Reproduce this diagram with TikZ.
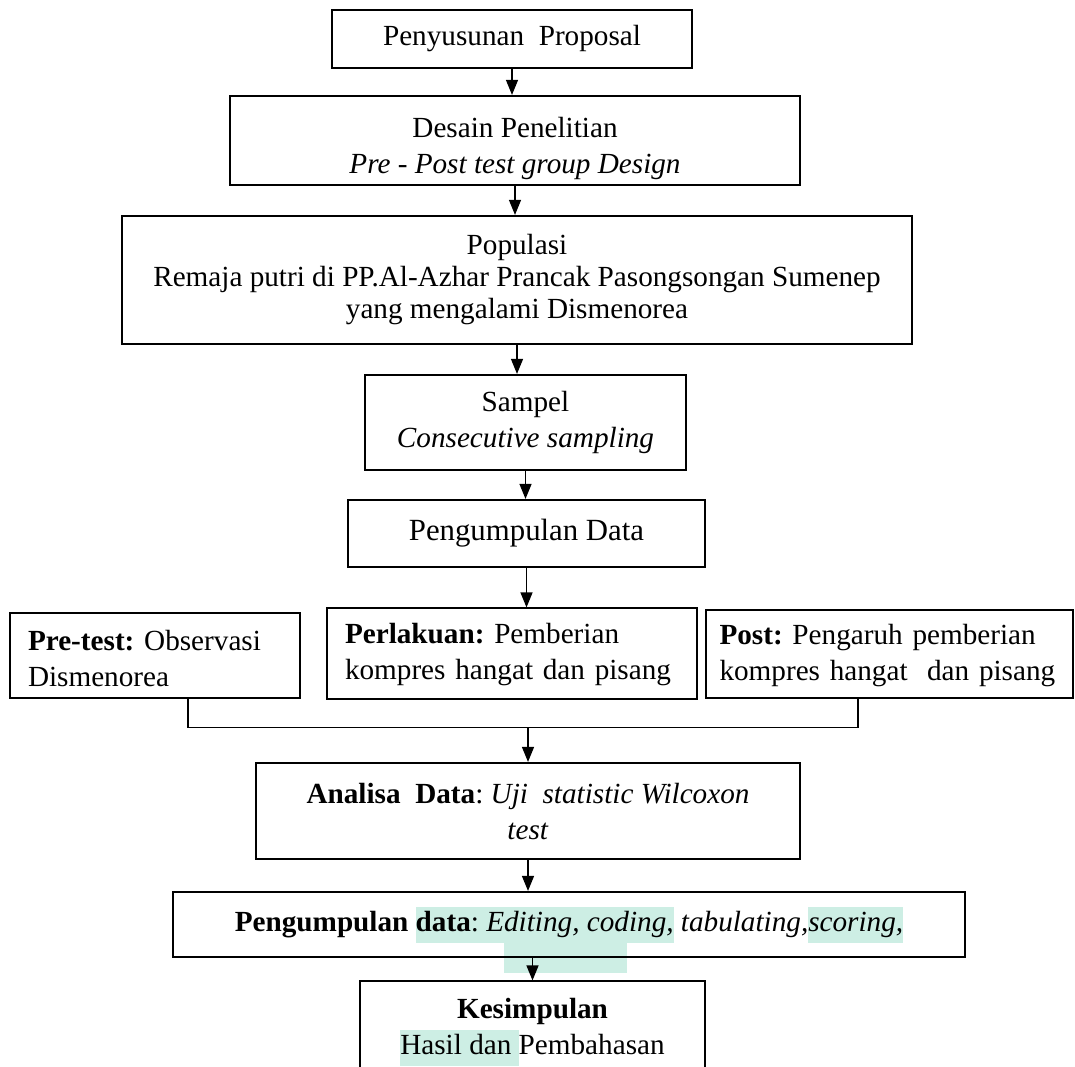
\documentclass[tikz,border=0pt]{standalone}
\usepackage{fontspec}
\setmainfont{Liberation Serif}
\usepackage{xcolor}
\usepackage{tikz}
\usetikzlibrary{arrows.meta,calc}
\definecolor{markgreen}{HTML}{CDEEE4}
\newcommand{\hlt}[1]{{\setlength{\fboxsep}{0pt}\colorbox{markgreen}{\strut #1}}}
\frenchspacing

\begin{document}
\begin{tikzpicture}[x=0.5pt,y=-0.5pt,
  bigbox/.style={draw, line width=1.1pt, align=center, inner sep=0pt},
  smallbox/.style={draw, line width=0.6pt, align=left, inner xsep=9pt, inner ysep=0pt},
  arr/.style={-{Triangle[length=7.5pt,width=6pt]}, line width=0.6pt},
  font=\fontsize{14.6}{18}\selectfont]
\useasboundingbox (0,0) rectangle (1075,1066);
\clip (0,0) rectangle (1075,1066);
% highlight behind the data box
\fill[markgreen] (504,941) rectangle (627,973);
\node[bigbox, minimum width=180pt, minimum height=29pt] (prop) at (512,39) {Penyusunan~ Proposal};
\node[bigbox, minimum width=285pt, text height=38.5pt, text depth=6pt] (desain) at (515,140.5) {Desain Penelitian\\ \textit{Pre - Post test group Design}};
\node[bigbox, minimum width=395pt, minimum height=64pt, font=\fontsize{14.6}{16}\selectfont] (pop) at (517,280) {Populasi\\ Remaja putri di PP.Al-Azhar Prancak Pasongsongan Sumenep\\ yang mengalami Dismenorea};
\node[bigbox, minimum width=160.5pt, minimum height=47.5pt] (sampel) at (525.5,422.5) {Sampel\\ \textit{Consecutive sampling}};
\node[bigbox, minimum width=178.5pt, minimum height=33.5pt, font=\fontsize{15.4}{18}\selectfont] (kumpul) at (526.5,533.5) {Pengumpulan Data};
\node[smallbox, text width=127pt, text height=18.5pt, text depth=24pt] (pre) at (155,655.5) {\textbf{Pre-test:} Observasi\\ Dismenorea};
\node[smallbox, text width=167pt, text height=17.5pt, text depth=28pt] (perl) at (512,653.5) {\textbf{Perlakuan:} Pemberian\\ kompres hangat dan pisang};
\node[smallbox, inner xsep=6.75pt, text width=170pt, text height=17pt, text depth=27pt] (post) at (889.5,654) {\textbf{Post:} Pengaruh pemberian\\ kompres hangat~ dan pisang};
\node[bigbox, minimum width=272pt, minimum height=48pt] (analisa) at (528,811) {\textbf{Analisa~ Data}: \textit{Uji~ statistic Wilcoxon}\\ \textit{test}};
\node[bigbox, minimum width=396pt, minimum height=32.5pt] (olah) at (569,924.5) {\textbf{Pengumpulan} \hlt{\textbf{data}: \textit{Editing, coding,}} \textit{tabulating,\hlt{scoring,}}};
\node[smallbox, align=center, inner xsep=0pt, minimum width=172.5pt, minimum height=51pt] (kes) at (532.5,1032) {\textbf{Kesimpulan}\\ \hlt{Hasil dan }Pembahasan};

\draw[arr] (prop.south) -- (prop.south |- desain.north);
\draw[arr] (desain.south) -- (desain.south |- pop.north);
\draw[arr] (pop.south) -- (pop.south |- sampel.north);
\draw[arr] (sampel.south) -- (sampel.south |- kumpul.north);
\draw[arr] (kumpul.south) -- (kumpul.south |- perl.north);
% join under the three boxes
\coordinate (pretap) at ([xshift=16.5pt]pre.south);
\coordinate (posttap) at ([xshift=-15.75pt]post.south);
\path (pretap) ++(0,-14.5pt) coordinate (mid);
\coordinate (merge) at (mid -| analisa.north);
\draw[line width=0.6pt] (pretap) -- (mid) -| (posttap);
\draw[arr] (merge) -- (analisa.north);
\draw[arr] (analisa.south) -- (analisa.south |- olah.north);
\draw[arr] (kes.north |- olah.south) -- (kes.north);
\end{tikzpicture}
\end{document}
